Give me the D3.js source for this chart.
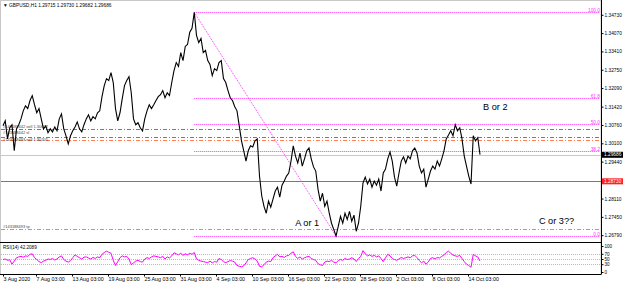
<!DOCTYPE html>
<html>
<head>
<meta charset="utf-8">
<script src="https://cdn.jsdelivr.net/npm/d3@7"></script>
<style>
  body { margin: 0; background: #fff; }
  svg { display: block; font-family: "Liberation Sans", Arial, sans-serif; }
</style>
</head>
<body>
<svg id="chart" width="625" height="284"></svg>
<script>
// GBPUSD H1 closes, one sample every 6 bars
const barStep = 6;
const prices = [
  1.3073, 1.3091, 1.3026, 1.3066, 1.3077, 1.2983, 1.3062, 1.3077, 1.3098, 1.3127,
  1.3145, 1.3135, 1.3164, 1.3182, 1.3149, 1.3120, 1.3135, 1.3098, 1.3062, 1.3073,
  1.3048, 1.3062, 1.3051, 1.3069, 1.3055, 1.3098, 1.3116, 1.3062, 1.3037, 1.3008,
  1.3037, 1.3055, 1.3069, 1.3087, 1.3062, 1.3051, 1.3077, 1.3098, 1.3113, 1.3091,
  1.3106, 1.3098, 1.3120, 1.3127, 1.3178, 1.3218, 1.3243, 1.3236, 1.3265, 1.3229,
  1.3135, 1.3091, 1.3120, 1.3171, 1.3218, 1.3236, 1.3250, 1.3192, 1.3098, 1.3077,
  1.3084, 1.3066, 1.3055, 1.3098, 1.3127, 1.3149, 1.3135, 1.3149, 1.3164, 1.3178,
  1.3185, 1.3200, 1.3174, 1.3192, 1.3182, 1.3229, 1.3272, 1.3301, 1.3287, 1.3337,
  1.3308, 1.3359, 1.3366, 1.3410, 1.3424, 1.3482, 1.3399, 1.3373, 1.3388, 1.3337,
  1.3345, 1.3308, 1.3294, 1.3254, 1.3279, 1.3272, 1.3301, 1.3308, 1.3243, 1.3229,
  1.3200, 1.3174, 1.3164, 1.3142, 1.3127, 1.3073, 1.3019, 1.2983, 1.2946, 1.2983,
  1.3001, 1.2997, 1.3019, 1.3026, 1.2892, 1.2820, 1.2783, 1.2758, 1.2802, 1.2780,
  1.2809, 1.2838, 1.2852, 1.2816, 1.2859, 1.2874, 1.2892, 1.2903, 1.2946, 1.3001,
  1.2964, 1.2939, 1.2975, 1.2928, 1.2954, 1.2983, 1.2993, 1.2954, 1.2925, 1.2910,
  1.2845, 1.2802, 1.2830, 1.2783, 1.2802, 1.2758, 1.2722, 1.2700, 1.2676, 1.2711,
  1.2747, 1.2722, 1.2758, 1.2736, 1.2765, 1.2729, 1.2751, 1.2693, 1.2722, 1.2783,
  1.2867, 1.2888, 1.2863, 1.2881, 1.2852, 1.2874, 1.2859, 1.2881, 1.2838, 1.2903,
  1.2917, 1.2954, 1.2979, 1.2946, 1.2888, 1.2856, 1.2903, 1.2946, 1.2961, 1.2939,
  1.2964, 1.2954, 1.2983, 1.2993, 1.2975, 1.2928, 1.2903, 1.2917, 1.2852, 1.2881,
  1.2910, 1.2928, 1.2917, 1.2946, 1.2928, 1.2954, 1.2983, 1.3026, 1.3040, 1.3055,
  1.3037, 1.3077, 1.3055, 1.3066, 1.3026, 1.2964, 1.2928, 1.2892, 1.2863, 1.3037,
  1.3019, 1.3030, 1.2969
];

// RSI(14) at the same samples
const rsi = [
  48, 50, 45, 47, 30, 42, 55, 58, 60, 57,
  62, 60, 68, 70, 55, 48, 40, 36, 42, 45,
  50, 48, 52, 46, 50, 58, 62, 48, 42, 38,
  44, 55, 66, 60, 55, 50, 57, 58, 54, 50,
  56, 52, 58, 55, 68, 75, 80, 76, 72, 45,
  25, 40, 55, 62, 58, 60, 50, 28, 35, 42,
  45, 40, 38, 50, 55, 52, 58, 62, 60, 58,
  55, 60, 50, 58, 54, 62, 74, 70, 66, 72,
  64, 70, 66, 72, 68, 75, 50, 45, 42, 40,
  38, 36, 42, 35, 40, 38, 52, 48, 40, 36,
  40, 44, 42, 38, 25, 22, 20, 24, 35, 48,
  52, 55, 50, 42, 22, 20, 28, 38, 42, 40,
  55, 62, 68, 58, 60, 56, 62, 64, 72, 78,
  60, 52, 58, 50, 55, 58, 60, 52, 48, 45,
  32, 28, 25, 38, 42, 40, 45, 38, 35, 44,
  48, 45, 52, 48, 50, 55, 50, 40, 52, 60,
  82, 70, 62, 66, 60, 64, 58, 62, 52, 40,
  55, 68, 62, 52, 48, 45, 50, 56, 52, 55,
  58, 55, 62, 64, 55, 45, 35, 42, 30, 38,
  52, 55, 50, 56, 54, 60, 66, 75, 80, 72,
  65, 62, 60, 64, 52, 40, 30, 25, 18, 68,
  62, 58, 42
];

const priceTicks = [1.34730, 1.34070, 1.33410, 1.32750, 1.32090, 1.31420, 1.30760,
                    1.30100, 1.29440, 1.28110, 1.27450, 1.26790];
const timeTickBars = [0, 88, 184, 280, 376, 472, 568, 664, 760, 856, 952, 1048, 1144, 1240];
const timeTickLabels = ["3 Aug 2020", "7 Aug 03:00", "13 Aug 03:00", "19 Aug 03:00", "25 Aug 03:00",
  "31 Aug 03:00", "4 Sep 03:00", "10 Sep 03:00", "16 Sep 03:00", "22 Sep 03:00",
  "28 Sep 03:00", "2 Oct 03:00", "8 Oct 03:00", "14 Oct 03:00"];

const fibPct = [0, 38.2, 50, 61.8, 100];
const fibHigh = { bar: 510, price: 1.3482 };
const fibLow = { bar: 888, price: 1.2676 };

const orderLines = [
  { price: 1.30602, color: "#4c9a4c", label: "#143188442 sell 1.30602", dy: -1.6 },
  { price: 1.30313, color: "#4c9a4c", label: "#143188442 sl", dy: -3.2 },
  { price: 1.30205, color: "#ff7f50", label: "#143188493 sell 1.30205", dy: 0 },
  { price: 1.27026, color: "#ff7f50", label: "#143188493 tp", dy: -1.6 }
];
const redLevel = 1.28730;
const bid = 1.29686;
const ohlc = ["1.29715", "1.29730", "1.29682", "1.29686"];
const rsiTicks = [100, 70, 50, 30, 0];
const rsiLevels = [70, 50, 30];
const rsiLast = "42.2089";

const notes = [
  { text: "B or 2", bar: 1280, price: 1.3130 },
  { text: "A or 1", bar: 779, price: 1.2712 },
  { text: "C or 3??", bar: 1429, price: 1.2721 }
];

// layout
const W = 625, H = 284;
const plotL = 1, plotR = 601, mainTop = 0.5, mainBot = 242.5, rsiBot = 274.5;

const svg = d3.select("#chart");
svg.append("rect").attr("width", W).attr("height", H).attr("fill", "#fff");

const x = d3.scaleLinear().domain([0, 1600]).range([3, 603]);
const y = d3.scaleLinear().domain([1.2676, 1.3482]).range([236, 12.3]);
const ry = d3.scaleLinear().domain([0, 100]).range([272, 246]);

// frame
svg.append("rect")
  .attr("x", 0.5).attr("y", mainTop)
  .attr("width", plotR - 0.5).attr("height", rsiBot - mainTop)
  .attr("fill", "none").attr("stroke", "#c8c8c8");
svg.append("line")
  .attr("x1", 0).attr("x2", plotR).attr("y1", mainBot).attr("y2", mainBot)
  .attr("stroke", "#000");
svg.append("line")
  .attr("x1", 0).attr("x2", plotR).attr("y1", rsiBot).attr("y2", rsiBot)
  .attr("stroke", "#000");
svg.append("line")
  .attr("x1", plotR + 0.5).attr("x2", plotR + 0.5).attr("y1", 0).attr("y2", rsiBot)
  .attr("stroke", "#000");

const main = svg.append("g");

// bid line
main.append("line")
  .attr("x1", plotL).attr("x2", plotR)
  .attr("y1", Math.round(y(bid)) + 0.5).attr("y2", Math.round(y(bid)) + 0.5)
  .attr("stroke", "#c8c8c8").attr("shape-rendering", "crispEdges");

// red level
main.append("line")
  .attr("x1", plotL).attr("x2", plotR)
  .attr("y1", Math.round(y(redLevel)) + 0.5).attr("y2", Math.round(y(redLevel)) + 0.5)
  .attr("stroke", "#ff4040").attr("stroke-width", 1.2)
  .attr("shape-rendering", "crispEdges");

// order lines
orderLines.forEach(o => {
  const yy = Math.round(y(o.price)) + 0.5;
  main.append("line")
    .attr("x1", plotL).attr("x2", plotR).attr("y1", yy).attr("y2", yy)
    .attr("stroke", o.color).attr("stroke-dasharray", "4,2,1,2")
    .attr("shape-rendering", "crispEdges");
  main.append("text")
    .attr("x", 3).attr("y", yy + o.dy)
    .attr("font-size", 4).attr("fill", "#444")
    .text(o.label);
});

// fibonacci levels
const fibColor = "#ff33ff";
fibPct.forEach(p => {
  const price = fibLow.price + (fibHigh.price - fibLow.price) * p / 100;
  const yy = Math.round(y(price)) + 0.5;
  main.append("line")
    .attr("x1", x(fibHigh.bar)).attr("x2", plotR - 1).attr("y1", yy).attr("y2", yy)
    .attr("stroke", fibColor).attr("stroke-dasharray", "1,1");
  main.append("text")
    .attr("x", plotR - 1).attr("y", yy - 1)
    .attr("text-anchor", "end").attr("font-size", 4.8).attr("fill", fibColor)
    .text(p.toFixed(1));
});
main.append("line")
  .attr("x1", x(fibHigh.bar)).attr("y1", y(fibHigh.price))
  .attr("x2", x(fibLow.bar)).attr("y2", y(fibLow.price))
  .attr("stroke", fibColor).attr("stroke-dasharray", "1,1");

// price line
const line = d3.line()
  .x((d, i) => x(i * barStep))
  .y(d => y(d));
main.append("path")
  .datum(prices)
  .attr("d", line)
  .attr("fill", "none").attr("stroke", "#000").attr("stroke-width", 1.1)
  .attr("stroke-linejoin", "miter");

// notes
notes.forEach(n => {
  main.append("text")
    .attr("x", x(n.bar)).attr("y", y(n.price))
    .attr("font-size", 9.2).attr("fill", "#000")
    .text(n.text);
});

// title
svg.append("text")
  .attr("x", 3).attr("y", 7).attr("font-size", 4.8).attr("fill", "#000")
  .text("\u25BC GBPUSD,H1  " + ohlc.join(" "));

// price axis
const yAxis = svg.append("g")
  .attr("transform", `translate(${plotR + 0.5},0)`)
  .call(d3.axisRight(y).tickValues(priceTicks).tickSize(2).tickPadding(1)
    .tickFormat(d3.format(".5f")));
yAxis.select(".domain").remove();
yAxis.selectAll("text").attr("font-size", 4.8).attr("fill", "#000");
yAxis.selectAll("line").attr("stroke", "#000");

// bid and red level tags
[{ v: bid, bg: "#000" }, { v: redLevel, bg: "#ff1f1f" }].forEach(t => {
  const yy = y(t.v);
  svg.append("rect")
    .attr("x", plotR + 1).attr("y", yy - 3).attr("width", 21).attr("height", 6)
    .attr("fill", t.bg);
  svg.append("text")
    .attr("x", plotR + 3).attr("y", yy + 1.7)
    .attr("font-size", 4.8).attr("fill", "#fff")
    .text(t.v.toFixed(5));
});

// RSI panel
rsiLevels.forEach(l => {
  svg.append("line")
    .attr("x1", plotL).attr("x2", plotR)
    .attr("y1", Math.round(ry(l)) + 0.5).attr("y2", Math.round(ry(l)) + 0.5)
    .attr("stroke", "#bbb").attr("stroke-dasharray", "1,1");
});
const rsiLine = d3.line()
  .x((d, i) => x(i * barStep))
  .y(d => ry(d));
svg.append("path")
  .datum(rsi)
  .attr("d", rsiLine)
  .attr("fill", "none").attr("stroke", "#ff00ff").attr("stroke-width", 1);
svg.append("text")
  .attr("x", 3).attr("y", 248.5).attr("font-size", 4.6).attr("fill", "#000")
  .text("RSI(14) " + rsiLast);

const rAxis = svg.append("g")
  .attr("transform", `translate(${plotR + 0.5},0)`)
  .call(d3.axisRight(ry).tickValues(rsiTicks).tickSize(2).tickPadding(1));
rAxis.select(".domain").remove();
rAxis.selectAll("text").attr("font-size", 4.6).attr("fill", "#000");
rAxis.selectAll("line").attr("stroke", "#000");

// time axis
const xAxis = svg.append("g")
  .attr("transform", `translate(0,${rsiBot})`)
  .call(d3.axisBottom(x).tickValues(timeTickBars).tickSize(2).tickPadding(1)
    .tickFormat((d, i) => timeTickLabels[i]));
xAxis.select(".domain").remove();
xAxis.selectAll("text")
  .attr("font-size", 5.3).attr("fill", "#000")
  .attr("text-anchor", "start").attr("dx", 0);
xAxis.selectAll("line").attr("stroke", "#000");
</script>
</body>
</html>
